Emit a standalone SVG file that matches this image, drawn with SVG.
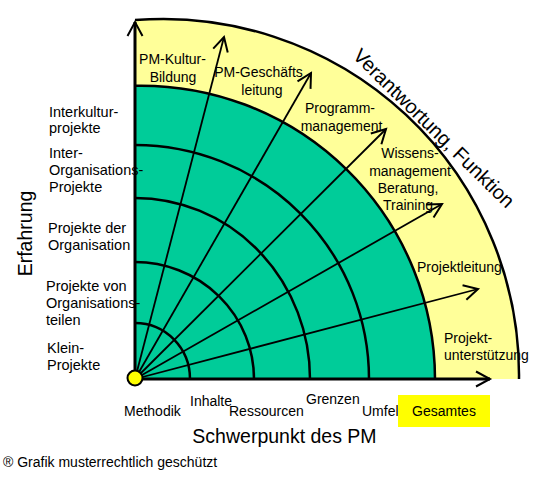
<svg xmlns="http://www.w3.org/2000/svg" width="550" height="495" viewBox="0 0 550 495">
<style>
text{font-family:"Liberation Sans",Arial,sans-serif;fill:#000}
.lbl{font-size:14px}
.big{font-size:19.5px}
.arc{fill:none;stroke:#000;stroke-width:2.5}
.spoke{fill:none;stroke:#000;stroke-width:1.8;marker-end:url(#arr)}
.axis{fill:none;stroke:#000;stroke-width:3;marker-end:url(#arr)}
</style>
<defs>
<marker id="arr" markerUnits="userSpaceOnUse" markerWidth="30" markerHeight="30" viewBox="-20 -15 30 30" refX="0" refY="0" orient="auto">
<path d="M-14,-7.5 L0,0 L-14,7.5" fill="none" stroke="#000" stroke-width="2"/>
</marker>
</defs>
<rect width="550" height="495" fill="#fff"/>
<g id="outer-zone">
<path d="M135,379 L135,20.1 A356,356 0 0 1 519,379 Z" fill="#FFFF99"/>
<path d="M135,20.1 A356,356 0 0 1 519,379" class="arc"/>
</g>
<g id="inner-zone">
<path d="M135,379 L135,85.7 A294,294 0 0 1 435,379 Z" fill="#00CC99"/>
<path d="M135,85.7 A294,294 0 0 1 435,379" class="arc"/>
</g>
<g id="rings">
<path d="M135,323 A55,56 0 0 1 190,379" class="arc"/>
<path d="M135,262 A119,117 0 0 1 254,379" class="arc"/>
<path d="M135,198 A175,181 0 0 1 310,379" class="arc"/>
<path d="M135,145 A234,234 0 0 1 369,379" class="arc"/>
</g>
<g id="connectors">
<path d="M135,379 L224,37" class="spoke"/>
<path d="M135,379 L311,73" class="spoke"/>
<path d="M135,379 L386,129" class="spoke"/>
<path d="M135,379 L442,204" class="spoke"/>
<path d="M135,379 L478,289" class="spoke"/>
<path d="M135,379 L135,22" class="axis"/>
<path d="M135,379 L490,379" class="axis"/>
</g>
<g id="origin">
<circle cx="135" cy="378" r="7.5" fill="#FFFF00" stroke="#000" stroke-width="2"/>
</g>
<g id="responsibility-labels" class="lbl" text-anchor="middle">
<text x="172.5" y="64">PM-Kultur-</text>
<text x="173" y="82">Bildung</text>
<text x="258.5" y="77">PM-Geschäfts</text>
<text x="262" y="95">leitung</text>
<text x="340" y="113">Programm-</text>
<text x="341.5" y="131">management</text>
<text x="410" y="158">Wissens-</text>
<text x="410" y="176">management</text>
<text x="408" y="193">Beratung,</text>
<text x="408" y="210">Training</text>
</g>
<g id="responsibility-labels-2" class="lbl">
<text x="417" y="272">Projektleitung</text>
<text x="444" y="343">Projekt-</text>
<text x="444" y="360">unterstützung</text>
</g>
<g id="experience-labels" style="font-size:14.5px">
<text x="49" y="117">Interkultur-</text>
<text x="49" y="133">projekte</text>
<text x="49" y="158">Inter-</text>
<text x="49" y="175">Organisations-</text>
<text x="49" y="192">Projekte</text>
<text x="48" y="233">Projekte der</text>
<text x="48" y="250">Organisation</text>
<text x="46" y="291">Projekte von</text>
<text x="46" y="308">Organisations-</text>
<text x="46" y="325">teilen</text>
<text x="47" y="353">Klein-</text>
<text x="47" y="370">Projekte</text>
</g>
<g id="focus-labels" class="lbl">
<text x="124" y="416">Methodik</text>
<text x="190" y="406">Inhalte</text>
<text x="229" y="416">Ressourcen</text>
<text x="306" y="404">Grenzen</text>
<text x="362" y="416">Umfeld</text>
</g>
<g id="gesamtes">
<rect x="398" y="395" width="92" height="32" fill="#FFFF00"/>
<text x="444" y="416" class="lbl" text-anchor="middle">Gesamtes</text>
</g>
<g id="axis-titles">
<text x="284.5" y="443" class="big" text-anchor="middle">Schwerpunkt des PM</text>
<text class="big" text-anchor="middle" transform="translate(32,233.5) rotate(-90)">Erfahrung</text>
<text text-anchor="middle" style="font-size:20px" transform="translate(429,133) rotate(44.5)">Verantwortung, Funktion</text>
</g>
<g id="footer">
<text x="3" y="467" class="lbl">® Grafik musterrechtlich geschützt</text>
</g>
</svg>
